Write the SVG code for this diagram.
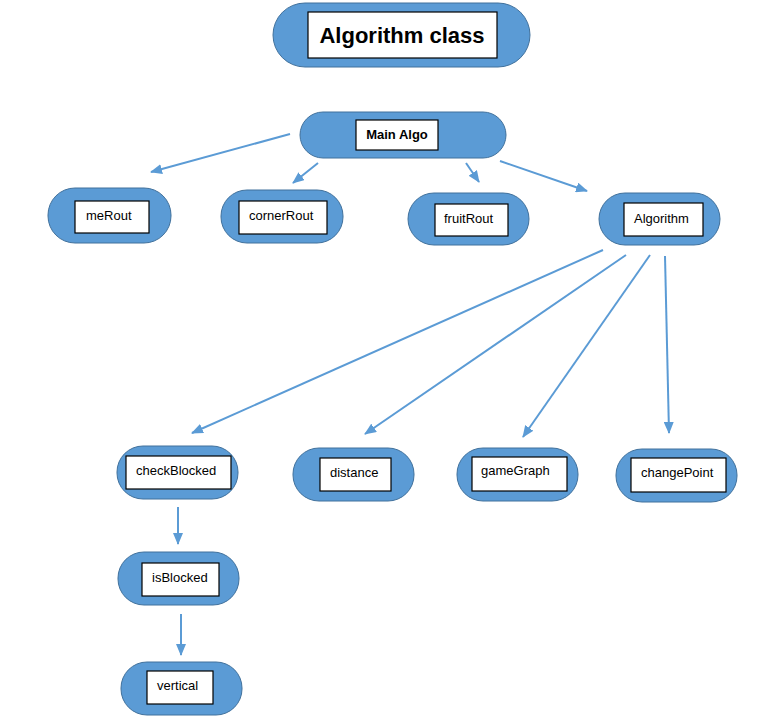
<svg xmlns="http://www.w3.org/2000/svg" width="783" height="720" viewBox="0 0 783 720">
<defs>
<style>
.pill{fill:#5B9BD5;stroke:#41719C;stroke-width:1}
.box{fill:#FFFFFF;stroke:#000000;stroke-width:1.2}
.lbl{font-family:"Liberation Sans",Arial,sans-serif;font-size:13px;fill:#000}
.conn{stroke:#5B9BD5;stroke-width:2;fill:none;marker-end:url(#ah)}
</style>
<marker id="ah" markerUnits="userSpaceOnUse" markerWidth="12" markerHeight="10" refX="11" refY="5" orient="auto">
<path d="M0,0 L12,5 L0,10 Z" fill="#5B9BD5"/>
</marker>
</defs>
<rect width="783" height="720" fill="#FFFFFF"/>
<g id="title">
<rect class="pill" x="273" y="3" width="257" height="64" rx="32"/>
<rect class="box" x="308" y="12" width="189" height="46"/>
<text x="402" y="43" text-anchor="middle" style="font-family:'Liberation Sans',Arial,sans-serif;font-size:22px;font-weight:bold">Algorithm class</text>
</g>
<g id="mainAlgo">
<rect class="pill" x="300" y="112" width="206" height="46" rx="23"/>
<rect class="box" x="356" y="120" width="82" height="30"/>
<text x="397" y="139" text-anchor="middle" class="lbl" font-weight="bold">Main Algo</text>
</g>
<g id="meRout">
<rect class="pill" x="48" y="188" width="123" height="55" rx="27"/>
<rect class="box" x="75" y="201" width="74" height="32"/>
<text x="86" y="220" class="lbl">meRout</text>
</g>
<g id="cornerRout">
<rect class="pill" x="221" y="190" width="122" height="53" rx="26"/>
<rect class="box" x="239" y="201" width="88" height="33"/>
<text x="249" y="220" class="lbl">cornerRout</text>
</g>
<g id="fruitRout">
<rect class="pill" x="408" y="193" width="121" height="52" rx="26"/>
<rect class="box" x="435" y="204" width="73" height="32"/>
<text x="444" y="223" class="lbl">fruitRout</text>
</g>
<g id="algorithm">
<rect class="pill" x="599" y="193" width="121" height="52" rx="26"/>
<rect class="box" x="624" y="203" width="79" height="33"/>
<text x="634" y="223" class="lbl">Algorithm</text>
</g>
<g id="checkBlocked">
<rect class="pill" x="117" y="446" width="121" height="53" rx="26"/>
<rect class="box" x="126" y="456" width="105" height="33"/>
<text x="136" y="475" class="lbl">checkBlocked</text>
</g>
<g id="distance">
<rect class="pill" x="293" y="448" width="121" height="53" rx="26"/>
<rect class="box" x="320" y="458" width="71" height="33"/>
<text x="330" y="477" class="lbl">distance</text>
</g>
<g id="gameGraph">
<rect class="pill" x="457" y="448" width="121" height="53" rx="26"/>
<rect class="box" x="472" y="457" width="95" height="34"/>
<text x="481" y="475" class="lbl">gameGraph</text>
</g>
<g id="changePoint">
<rect class="pill" x="616" y="449" width="121" height="53" rx="26"/>
<rect class="box" x="631" y="458" width="95" height="34"/>
<text x="641" y="477" class="lbl">changePoint</text>
</g>
<g id="isBlocked">
<rect class="pill" x="118" y="552" width="121" height="53" rx="26"/>
<rect class="box" x="142" y="563" width="77" height="33"/>
<text x="152" y="582" class="lbl">isBlocked</text>
</g>
<g id="vertical">
<rect class="pill" x="121" y="662" width="121" height="53" rx="26"/>
<rect class="box" x="147" y="671" width="66" height="33"/>
<text x="157" y="690" class="lbl">vertical</text>
</g>
<g id="connectors">
<line class="conn" x1="290" y1="134" x2="151" y2="172"/>
<line class="conn" x1="318" y1="163" x2="293" y2="183"/>
<line class="conn" x1="466" y1="163" x2="479" y2="182"/>
<line class="conn" x1="500" y1="161" x2="587" y2="191"/>
<line class="conn" x1="603" y1="250" x2="192" y2="433"/>
<line class="conn" x1="626" y1="255" x2="365" y2="434"/>
<line class="conn" x1="650" y1="255" x2="523" y2="437"/>
<line class="conn" x1="665" y1="256" x2="669" y2="433"/>
<line class="conn" x1="178" y1="507" x2="178" y2="544"/>
<line class="conn" x1="181" y1="614" x2="181" y2="655"/>
</g>
</svg>
